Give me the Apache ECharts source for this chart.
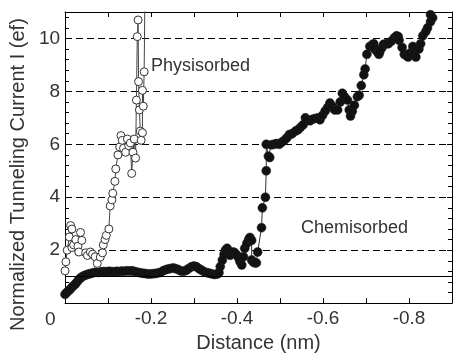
<!DOCTYPE html>
<html>
<head>
<meta charset="utf-8">
<script src="https://cdn.jsdelivr.net/npm/echarts@6/dist/echarts.min.js"></script>
<style>
  html, body { margin: 0; padding: 0; background: #fff; }
  #chart { width: 455px; height: 358px; }
</style>
</head>
<body>
<div id="chart"></div>
<script>
// physisorbed trace (open circles), distance in nm, current in units of ef
const physDist = [0.000, -0.002, -0.005, -0.010, -0.013, -0.016, -0.016, -0.020, -0.025, -0.030, -0.036, -0.039, -0.032, -0.048, -0.052, -0.059, -0.064, -0.070, -0.075, -0.082, -0.087, -0.089, -0.093, -0.096, -0.102, -0.105, -0.109, -0.111, -0.116, -0.118, -0.123, -0.127, -0.130, -0.133, -0.136, -0.141, -0.145, -0.148, -0.152, -0.155, -0.158, -0.161, -0.164, -0.166, -0.168, -0.170, -0.171, -0.173, -0.175, -0.177, -0.180, -0.180, -0.182, -0.184, -0.186];
const physCurrent = [1.22, 1.56, 2.00, 2.50, 2.93, 2.80, 2.10, 2.20, 2.40, 2.15, 2.67, 2.37, 1.93, 1.90, 1.80, 1.93, 1.85, 1.75, 1.50, 1.74, 1.90, 2.20, 2.40, 2.56, 2.80, 3.67, 3.90, 4.15, 4.60, 5.07, 5.60, 5.90, 6.33, 6.15, 5.85, 5.70, 6.20, 5.95, 6.05, 4.90, 5.70, 6.20, 5.48, 7.67, 10.07, 10.70, 8.37, 7.30, 6.50, 6.15, 6.44, 8.04, 7.44, 8.74, 12.00];

// chemisorbed trace (filled circles)
const chemDist = [0, -0.004, -0.008, -0.012, -0.016, -0.020, -0.024, -0.028, -0.032, -0.036, -0.040, -0.045, -0.050, -0.055, -0.060, -0.066, -0.072, -0.078, -0.084, -0.090, -0.096, -0.102, -0.108, -0.114, -0.120, -0.126, -0.132, -0.138, -0.144, -0.150, -0.156, -0.162, -0.168, -0.174, -0.180, -0.186, -0.192, -0.198, -0.204, -0.210, -0.216, -0.222, -0.228, -0.234, -0.240, -0.246, -0.252, -0.258, -0.264, -0.270, -0.276, -0.282, -0.288, -0.294, -0.300, -0.306, -0.312, -0.318, -0.324, -0.330, -0.336, -0.342, -0.348, -0.354, -0.358,
  -0.361, -0.366, -0.370, -0.373, -0.377, -0.381, -0.384, -0.388, -0.391, -0.395, -0.400, -0.404, -0.407, -0.411, -0.415, -0.418, -0.423, -0.427, -0.430, -0.434, -0.434, -0.438, -0.441, -0.445, -0.448,
  -0.457, -0.459, -0.466, -0.468, -0.468, -0.473, -0.476, -0.480, -0.486, -0.492, -0.498, -0.504, -0.510, -0.516, -0.522, -0.528, -0.536, -0.542, -0.548, -0.554, -0.559, -0.564, -0.570, -0.576, -0.582, -0.589, -0.593, -0.599, -0.605, -0.611, -0.616, -0.621, -0.627, -0.634, -0.640, -0.645, -0.650, -0.657, -0.661, -0.664, -0.668, -0.673, -0.680, -0.684, -0.689, -0.695, -0.698, -0.702, -0.709, -0.714, -0.718, -0.720, -0.726, -0.730, -0.732, -0.737, -0.741, -0.747, -0.752, -0.759, -0.766, -0.771, -0.775, -0.777, -0.784, -0.789, -0.794, -0.798, -0.802, -0.809, -0.811, -0.816, -0.823, -0.827, -0.832, -0.839, -0.843, -0.850, -0.850, -0.855];
const chemCurrent = [0.33, 0.40, 0.46, 0.52, 0.60, 0.66, 0.72, 0.80, 0.89, 0.95, 1.00, 1.04, 1.07, 1.10, 1.12, 1.15, 1.17, 1.16, 1.18, 1.19, 1.18, 1.20, 1.19, 1.18, 1.20, 1.19, 1.21, 1.20, 1.22, 1.21, 1.22, 1.19, 1.17, 1.15, 1.13, 1.12, 1.10, 1.10, 1.11, 1.12, 1.14, 1.16, 1.22, 1.26, 1.29, 1.31, 1.33, 1.30, 1.26, 1.21, 1.20, 1.24, 1.31, 1.37, 1.40, 1.37, 1.30, 1.24, 1.18, 1.15, 1.13, 1.10, 1.08, 1.10, 1.15,
  1.38, 1.63, 1.85, 2.00, 2.07, 1.95, 1.81, 1.88, 1.93, 1.90, 1.81, 1.70, 1.56, 1.44, 1.75, 2.07, 2.26, 2.40, 2.48, 2.37, 1.63, 1.55, 1.52, 1.52, 1.93,
  2.85, 3.60, 4.00, 5.00, 6.00, 5.55, 5.50, 5.98, 6.00, 6.03, 6.00, 6.08, 6.15, 6.25, 6.37, 6.40, 6.50, 6.55, 6.65, 6.74, 7.00, 6.92, 6.89, 6.95, 6.98, 7.00, 6.93, 7.10, 7.26, 7.40, 7.56, 7.45, 7.30, 7.30, 7.60, 7.93, 7.80, 7.67, 7.30, 7.07, 7.25, 7.48, 7.80, 7.85, 8.22, 8.63, 8.85, 9.40, 9.70, 9.75, 9.80, 9.60, 9.50, 9.40, 9.50, 9.65, 9.78, 9.80, 9.80, 9.90, 10.03, 10.10, 10.07, 9.93, 9.66, 9.40, 9.35, 9.30, 9.44, 9.70, 9.50, 9.30, 9.60, 9.80, 10.10, 10.26, 10.40, 10.63, 10.90, 10.78];

const referenceLevel = 1;
const xLabelValues = [-0.2, -0.4, -0.6, -0.8];
const yLabelValues = [2, 4, 6, 8, 10];

const FONT = "Liberation Sans, Arial, sans-serif";
const TEXT = "#333";

const pair = (xs, ys) => xs.map((x, i) => [x, ys[i]]);
const near = (list, v) => list.some(t => Math.abs(t - v) < 1e-6);

const chart = echarts.init(document.getElementById("chart"), null, { renderer: "canvas" });

const xBase = {
  type: "value", min: -0.9, max: 0, interval: 0.1, inverse: true,
  axisLine: { onZero: false, lineStyle: { color: "#000", width: 1 } },
  axisTick: { inside: true, length: 5, lineStyle: { color: "#000" } },
  splitLine: { show: false }
};
const yBase = {
  type: "value", min: 0, max: 11, interval: 2,
  axisLine: { onZero: false, lineStyle: { color: "#000", width: 1 } },
  axisTick: { inside: true, length: 5, lineStyle: { color: "#000" } },
  minorTick: { show: true, splitNumber: 5, length: 4, lineStyle: { color: "#000" } }
};

chart.setOption({
  animation: false,
  backgroundColor: "#fff",
  grid: { left: 61, right: -2, top: 12, bottom: 49 },
  xAxis: [
    Object.assign({}, xBase, {
      position: "bottom",
      name: "Distance (nm)", nameLocation: "middle", nameGap: 29,
      nameTextStyle: { color: TEXT, fontSize: 20, fontFamily: FONT },
      axisLabel: {
        color: TEXT, fontSize: 19, fontFamily: FONT, margin: 6,
        formatter: v => near(xLabelValues, v) ? String(v) : ""
      }
    }),
    Object.assign({}, xBase, { position: "top", axisLabel: { show: false } })
  ],
  yAxis: [
    Object.assign({}, yBase, {
      position: "left",
      name: "Normalized Tunneling Current I (ef)", nameLocation: "middle", nameGap: 31,
      nameTextStyle: { color: TEXT, fontSize: 20, fontFamily: FONT, padding: [0, 34, 0, 0] },
      axisLabel: {
        color: TEXT, fontSize: 19, fontFamily: FONT, margin: 5,
        showMaxLabel: false,
        formatter: v => near(yLabelValues, v) ? String(v) : ""
      },
      splitLine: { show: true, lineStyle: { color: "#000", width: 1, type: [7, 4] } }
    }),
    Object.assign({}, yBase, { position: "right", axisLabel: { show: false }, splitLine: { show: false } })
  ],
  graphic: [
    // shared origin label sits below the corner
    { type: "text", left: 45, top: 310, style: { text: "0", fill: TEXT, fontSize: 19, fontFamily: FONT } },
    { type: "text", left: 151, top: 57, style: { text: "Physisorbed", fill: TEXT, fontSize: 18, fontFamily: FONT } },
    { type: "text", left: 301, top: 219, style: { text: "Chemisorbed", fill: TEXT, fontSize: 18, fontFamily: FONT } }
  ],
  series: [
    {
      name: "Chemisorbed", type: "line",
      data: pair(chemDist, chemCurrent),
      symbol: "circle", symbolSize: 9, showAllSymbol: true,
      lineStyle: { color: "#333", width: 1 },
      itemStyle: { color: "#111", borderColor: "#222", borderWidth: 0.5 },
      markLine: {
        silent: true, symbol: "none", label: { show: false },
        lineStyle: { color: "#000", width: 1.2, type: "solid" },
        data: [{ yAxis: referenceLevel }]
      },
      z: 2
    },
    {
      name: "Physisorbed", type: "line",
      data: pair(physDist, physCurrent),
      symbol: "circle", symbolSize: 8, showAllSymbol: true,
      lineStyle: { color: "#444", width: 1 },
      itemStyle: { color: "#fff", borderColor: "#333", borderWidth: 1 },
      z: 3
    }
  ]
});
</script>
</body>
</html>
